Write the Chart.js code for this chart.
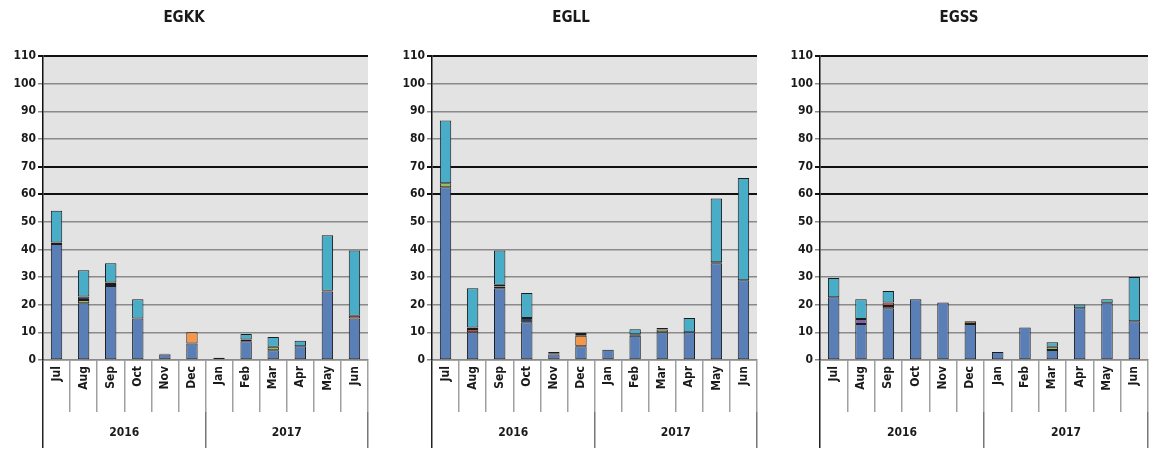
<!DOCTYPE html>
<html>
<head>
<meta charset="utf-8">
<script src="https://cdn.jsdelivr.net/npm/chart.js@4.4.0/dist/chart.umd.min.js"></script>
<style>
  body { margin: 0; background: #fff; }
  .wrap { position: relative; width: 1151px; height: 450px; }
  canvas { position: absolute; top: 0; }
</style>
</head>
<body>
<div class="wrap">
  <canvas id="egkk" width="385" height="450" style="left:0px"></canvas>
  <canvas id="egll" width="385" height="450" style="left:385px"></canvas>
  <canvas id="egss" width="381" height="450" style="left:770px"></canvas>
</div>
<script>
const months = ["Jul", "Aug", "Sep", "Oct", "Nov", "Dec", "Jan", "Feb", "Mar", "Apr", "May", "Jun"];
const years = ["2016", "2017"];
const yMax = 110;
const yStep = 10;

// EGKK
const egkkBlue   = [42, 20.5, 26.8, 15, 2, 6, 0.8, 6.8, 3.5, 5, 24.8, 15];
const egkkGreen  = [0, 1.2, 0.7, 0, 0, 0, 0, 0, 1.3, 0, 0, 0];
const egkkRed    = [0, 0, 0, 0, 0, 0, 0, 0, 0, 0, 0, 1];
const egkkPurple = [0, 0, 0, 0, 0, 0, 0, 0, 0, 0, 0, 0];
const egkkOrange = [0, 0, 0, 0, 0, 4, 0, 0, 0, 0, 0, 0];
const egkkBrown  = [0, 0, 0, 0, 0, 0, 0, 0, 0, 0, 0, 0];
const egkkNavy   = [0.5, 1.3, 0.5, 0, 0.3, 0, 0, 0.6, 0, 0, 0.3, 0];
const egkkCyan   = [11.5, 9.5, 7, 7, 0, 0, 0, 2, 3.5, 2, 20, 23.6];

// EGLL
const egllBlue   = [62.5, 10, 26, 13.7, 2, 5, 3.7, 8.8, 10, 10, 35, 28.9];
const egllGreen  = [1.5, 0, 0.6, 0, 0, 0, 0, 0, 1, 0, 0, 0];
const egllRed    = [0, 1.2, 0, 0, 0, 0, 0, 0, 0, 0, 0, 0];
const egllPurple = [0, 0, 0, 0, 0, 0, 0, 0, 0, 0, 0, 0];
const egllOrange = [0, 0, 0, 0, 0, 3.8, 0, 0, 0, 0, 0, 0];
const egllBrown  = [0, 0, 0, 0, 0, 0, 0, 0, 0, 0, 0, 0];
const egllNavy   = [0, 0.6, 0.6, 1.5, 0.4, 0.6, 0, 0.5, 0.6, 0, 0.4, 0];
const egllCyan   = [22.7, 14.2, 12.4, 9, 0.5, 0.4, 0, 1.8, 0, 5.2, 23, 37];

// EGSS
const egssBlue   = [22.7, 13, 18.7, 22, 20.8, 13, 2.9, 11.8, 3.6, 18.7, 20.5, 14];
const egssGreen  = [0, 0, 0.8, 0, 0, 0, 0, 0, 1.2, 0, 0, 0];
const egssRed    = [0, 0, 1.3, 0, 0, 0, 0, 0, 0, 0, 0, 0];
const egssPurple = [0, 1.8, 0, 0, 0, 0, 0, 0, 0, 0, 0, 0];
const egssOrange = [0, 0, 0, 0, 0, 0, 0, 0, 0, 0, 0, 0];
const egssBrown  = [0, 0, 0, 0, 0, 1, 0, 0, 0, 0, 0, 0];
const egssNavy   = [0, 0, 0, 0, 0, 0, 0, 0, 0, 0, 0, 0];
const egssCyan   = [7, 7.2, 4.2, 0, 0, 0, 0, 0, 1.6, 1.4, 1.5, 16];

const colors = {
  blue: "#5a7eb6",
  green: "#9bbb59",
  red: "#c0504d",
  purple: "#8064a2",
  orange: "#f79646",
  brown: "#a0602e",
  navy: "#2f3d62",
  cyan: "#4aadc7"
};

const textColor = "#1a1a1a";
const gridGray = "#8a8a8a";

// grey plot background like the spreadsheet original
const plotBg = {
  id: "plotBg",
  beforeDraw(chart) {
    const { ctx, chartArea: a } = chart;
    ctx.save();
    ctx.fillStyle = "#e3e3e3";
    ctx.fillRect(a.left, a.top, a.right - a.left, a.bottom - a.top);
    ctx.restore();
  }
};

function makeChart(id, title, series, axisWidth, padRight) {
  const order = ["blue", "green", "red", "purple", "orange", "brown", "navy", "cyan"];
  const datasets = order.map((name) => ({
    label: name,
    data: series[name].map((v) => (v === 0 ? null : v)),
    backgroundColor: colors[name],
    borderColor: "#1c1c1c",
    borderWidth: 1,
    borderSkipped: false,
    categoryPercentage: 1,
    barPercentage: 0.42
  }));

  return new Chart(document.getElementById(id), {
    type: "bar",
    data: { labels: months, datasets },
    plugins: [plotBg],
    options: {
      responsive: false,
      animation: false,
      devicePixelRatio: 1,
      layout: { padding: { left: 0, right: padRight, top: 0, bottom: 2 } },
      plugins: {
        legend: { display: false },
        tooltip: { enabled: false },
        title: {
          display: true,
          text: title,
          color: textColor,
          font: { family: "'DejaVu Sans Condensed', 'DejaVu Sans'", size: 15, weight: "bold" },
          padding: { top: 9, bottom: 29 }
        }
      },
      scales: {
        x: {
          stacked: true,
          offset: true,
          weight: 0,
          grid: {
            offset: true,
            drawOnChartArea: true,
            color: (c) => (c.index === months.length ? gridGray : "rgba(0,0,0,0)"),
            tickColor: (c) => (c.index === 0 ? "#222" : "#a0a0a0"),
            lineWidth: 1.5,
            tickLength: 52
          },
          border: { display: true, color: gridGray, width: 1.5 },
          ticks: {
            color: textColor,
            minRotation: 90,
            maxRotation: 90,
            autoSkip: false,
            padding: -46,
            font: { family: "'DejaVu Sans Condensed', 'DejaVu Sans'", size: 12, weight: "bold" }
          },
          afterFit: (s) => { s.height = 52; }
        },
        year: {
          type: "category",
          position: "bottom",
          labels: years,
          offset: true,
          weight: 1,
          grid: {
            offset: true,
            drawOnChartArea: false,
            tickColor: (c) => (c.index === 0 ? "#222" : "#777"),
            lineWidth: 1.5,
            tickLength: 36
          },
          border: { display: false },
          ticks: {
            color: textColor,
            padding: -22,
            font: { family: "'DejaVu Sans Condensed', 'DejaVu Sans'", size: 12, weight: "bold" }
          },
          afterFit: (s) => { s.height = 36; }
        },
        y: {
          stacked: true,
          min: 0,
          max: yMax,
          ticks: {
            stepSize: yStep,
            color: textColor,
            padding: 2,
            font: { family: "'DejaVu Sans Condensed', 'DejaVu Sans'", size: 12, weight: "bold" }
          },
          grid: {
            color: (c) => ([60, 70, 110].includes(c.tick && c.tick.value) ? "#111" : gridGray),
            lineWidth: (c) => ([60, 70, 110].includes(c.tick && c.tick.value) ? 2 : 1.5),
            tickLength: 5
          },
          border: { display: true, color: "#111", width: 1.5 },
          afterFit: (s) => { s.width = axisWidth; }
        }
      }
    }
  });
}

makeChart("egkk", "EGKK", {
  blue: egkkBlue, green: egkkGreen, red: egkkRed, purple: egkkPurple,
  orange: egkkOrange, brown: egkkBrown, navy: egkkNavy, cyan: egkkCyan
}, 43, 17);

makeChart("egll", "EGLL", {
  blue: egllBlue, green: egllGreen, red: egllRed, purple: egllPurple,
  orange: egllOrange, brown: egllBrown, navy: egllNavy, cyan: egllCyan
}, 47, 13);

makeChart("egss", "EGSS", {
  blue: egssBlue, green: egssGreen, red: egssRed, purple: egssPurple,
  orange: egssOrange, brown: egssBrown, navy: egssNavy, cyan: egssCyan
}, 50, 3);
</script>
</body>
</html>
